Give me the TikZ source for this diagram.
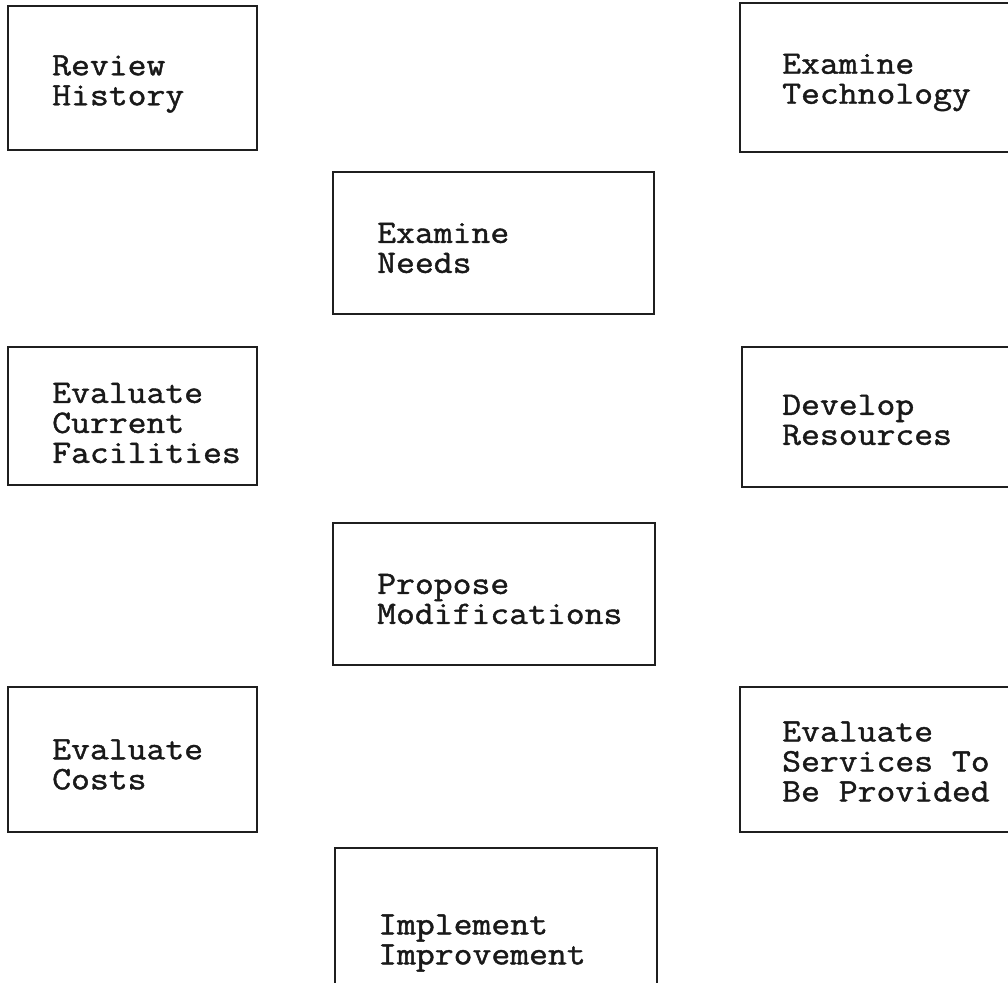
\documentclass[tikz,border=0pt]{standalone}
\usepackage{fontspec}
\newfontfamily\typewriter[FakeStretch=1.12,FakeBold=1.3]{Latin Modern Mono}
\begin{document}
\begin{tikzpicture}[x=1pt,y=-1pt,
  stepbox/.style={draw=black!88, line width=2.6pt, inner sep=0pt, outer sep=0pt},
  boxtext/.style={anchor=west, align=left, inner sep=0pt,
    font=\typewriter\fontsize{32.7}{30}\selectfont, text=black!90}]
  \useasboundingbox (0,0) rectangle (1008,982);
  \clip (0,0) rectangle (1008,982);

  % left column
  \node[stepbox, minimum width=249pt, minimum height=144pt] (rh) at (132.5,78) {};
  \node[stepbox, minimum width=249pt, minimum height=138pt] (ecf) at (132.5,416) {};
  \node[stepbox, minimum width=249pt, minimum height=145pt] (ec) at (132.5,759.5) {};

  % middle column
  \node[stepbox, minimum width=321pt, minimum height=142pt] (en) at (493.5,243) {};
  \node[stepbox, minimum width=322pt, minimum height=142pt] (pm) at (494,594) {};
  \node[stepbox, minimum width=322pt, minimum height=152pt] (ii) at (496,924) {};

  % right column (runs past the right edge)
  \node[stepbox, minimum width=280pt, minimum height=149pt] (et) at (880,77.5) {};
  \node[stepbox, minimum width=278pt, minimum height=140pt] (dr) at (881,417) {};
  \node[stepbox, minimum width=280pt, minimum height=145pt] (es) at (880,759.5) {};

  % labels
  \node[boxtext] (rh-t) at ([xshift=44pt,yshift=-6pt]rh.west) {Review\\History};
  \node[boxtext] (ecf-t) at ([xshift=44pt,yshift=-7pt]ecf.west) {Evaluate\\Current\\Facilities};
  \node[boxtext] (ec-t) at ([xshift=44pt,yshift=-5pt]ec.west) {Evaluate\\Costs};
  \node[boxtext] (en-t) at ([xshift=44pt,yshift=-5pt]en.west) {Examine\\Needs};
  \node[boxtext] (pm-t) at ([xshift=44pt,yshift=-5pt]pm.west) {Propose\\Modifications};
  \node[boxtext] (ii-t) at ([xshift=43pt,yshift=-19pt]ii.west) {Implement\\Improvement};
  \node[boxtext] (et-t) at ([xshift=42pt,yshift=-5pt]et.west) {Examine\\Technology};
  \node[boxtext] (dr-t) at ([xshift=40pt,yshift=-3pt]dr.west) {Develop\\Resources};
  \node[boxtext] (es-t) at ([xshift=42pt,yshift=-2pt]es.west) {Evaluate\\Services To\\Be Provided};
\end{tikzpicture}
\end{document}
